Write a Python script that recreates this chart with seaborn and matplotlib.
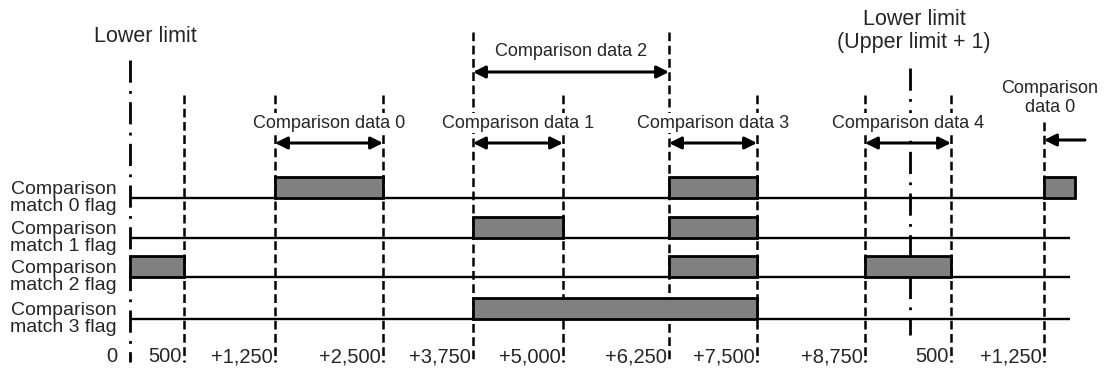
# Timing diagram: comparison match flags vs. comparison data
import numpy as np
import pandas as pd
import seaborn as sns
import matplotlib.pyplot as plt

sns.set_theme(style='white')
plt.rcParams['font.family'] = ['Liberation Sans', 'DejaVu Sans']

# %%
# Data (x in timeline units, rows top to bottom)
row_labels = ['Comparison\nmatch 0 flag', 'Comparison\nmatch 1 flag',
              'Comparison\nmatch 2 flag', 'Comparison\nmatch 3 flag']
row_base = [198, 238, 277, 319]

bar_row = [0, 0, 0, 1, 1, 2, 2, 2, 3]
bar_start = [275, 669, 1044, 473, 669, 130, 669, 865, 473]
bar_end = [383, 757, 1075, 563, 757, 184, 757, 951, 757]

tick_pos = [130, 184, 275, 383, 473, 563, 669, 757, 865, 951, 1044]
tick_labels = ['0', '500', '+1,250', '+2,500', '+3,750', '+5,000',
               '+6,250', '+7,500', '+8,750', '500', '+1,250']

# vertical marker lines: x, top, bottom, style
vline_x = [130, 184, 275, 383, 473, 563, 669, 757, 865, 910, 951, 1044]
vline_top = [60, 95, 95, 95, 32, 95, 32, 95, 95, 68, 95, 122]
vline_bot = [362, 362, 362, 362, 362, 362, 362, 362, 362, 335, 362, 362]
vline_kind = ['limit', 'cmp', 'cmp', 'cmp', 'cmp', 'cmp', 'cmp', 'cmp',
              'cmp', 'limit', 'cmp', 'cmp']

# comparison-data spans (arrows)
span_label = ['Comparison data 0', 'Comparison data 1', 'Comparison data 2',
              'Comparison data 3', 'Comparison data 4']
span_start = [275, 473, 473, 669, 865]
span_end = [383, 563, 669, 757, 951]
span_y = [143, 143, 72, 143, 143]

bars = pd.DataFrame({'row': bar_row, 'start': bar_start, 'end': bar_end})
bars['base'] = [row_base[r] for r in bars['row']]

# %%
fig = plt.figure(figsize=(11.09, 3.70), dpi=100)
ax = fig.add_axes([0, 0, 1, 1])
ax.set_xlim(0, 1109)
ax.set_ylim(370, 0)
ax.axis('off')

bar_h = 21
dashed = (0, (3.5, 1.8))
dashdot = (0, (8, 3, 1, 3))

for x, t, b, k in zip(vline_x, vline_top, vline_bot, vline_kind):
    ax.vlines(x, t, b, color='black', lw=2 if k == 'limit' else 1.8,
              linestyle=dashdot if k == 'limit' else dashed, zorder=1)

# flag baselines
ax.hlines(row_base, 130, 1070, color='black', lw=1.7, zorder=2)

# flag high periods
ax.barh(bars['base'] - bar_h / 2, bars['end'] - bars['start'], left=bars['start'],
        height=bar_h, color='#808080', edgecolor='black', linewidth=2, zorder=3)

for lab, y in zip(row_labels, row_base):
    ax.text(117, y, lab, ha='right', va='center', fontsize=14, linespacing=0.95)

for p, lab in zip(tick_pos, tick_labels):
    xp = 117 if lab == '0' else p - 2
    ax.text(xp, 357, lab, ha='right', va='center', fontsize=14.5,
            bbox=dict(fc='white', ec='none', pad=0), zorder=4)

for lab, s, e, y in zip(span_label, span_start, span_end, span_y):
    ax.annotate('', xy=(e, y), xytext=(s, y),
                arrowprops=dict(arrowstyle='<|-|>', color='black', lw=2.2,
                                mutation_scale=18, shrinkA=0, shrinkB=0), zorder=5)
    ax.text((s + e) / 2, y - 20, lab, ha='center', va='center', fontsize=13,
            bbox=dict(fc='white', ec='none', pad=1), zorder=4)

# wrap-around comparison data 0
ax.annotate('', xy=(1044, 140), xytext=(1085, 140),
            arrowprops=dict(arrowstyle='-|>', color='black', lw=2.2,
                            mutation_scale=18, shrinkA=0, shrinkB=0), zorder=5)
ax.text(1050, 98, 'Comparison\ndata 0', ha='center', va='center', fontsize=13,
        linespacing=1.1)

ax.text(145, 37, 'Lower limit', ha='center', va='center', fontsize=15.5)
ax.text(914, 31, 'Lower limit\n(Upper limit + 1)', ha='center', va='center',
        fontsize=15.5, linespacing=1.1)

fig.savefig('out.png', dpi=100)
